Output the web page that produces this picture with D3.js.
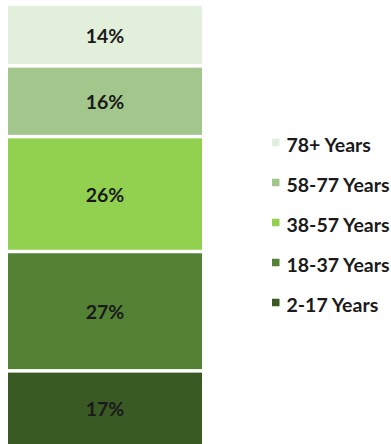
<!DOCTYPE html>
<html>
<head>
<meta charset="utf-8">
<script src="https://cdn.jsdelivr.net/npm/d3@7/dist/d3.min.js"></script>
<style>
  html, body { margin: 0; padding: 0; background: #fff; }
  svg { display: block; }
  text { font-family: Lato, "Open Sans", sans-serif; font-weight: bold; fill: #1a1a1a; }
</style>
</head>
<body>
<svg id="chart" width="391" height="444"></svg>
<script>
// Age groups, bottom to top of the stack
const ageGroups = ["2-17 Years", "18-37 Years", "38-57 Years", "58-77 Years", "78+ Years"];
const shares = [17, 27, 26, 16, 14];
const groupColors = ["#3a5a24", "#548235", "#92d050", "#a3c68d", "#e2efda"];

const svg = d3.select("#chart");

// Cumulative stack bounds
const stacked = [];
let acc = 0;
ageGroups.forEach((g, i) => {
  stacked.push({ group: g, value: shares[i], y0: acc, y1: acc + shares[i], color: groupColors[i] });
  acc += shares[i];
});

const y = d3.scaleLinear().domain([0, 100]).range([446, 4]);
const x = d3.scaleBand().domain(["all"]).range([8, 202]).padding(0);

const gap = 3.5;

const seg = svg.append("g").selectAll("g").data(stacked).join("g");

seg.append("rect")
  .attr("x", x("all"))
  .attr("width", x.bandwidth())
  .attr("y", d => y(d.y1) + gap / 2)
  .attr("height", d => y(d.y0) - y(d.y1) - gap)
  .attr("fill", d => d.color);

seg.append("text")
  .attr("x", x("all") + x.bandwidth() / 2)
  .attr("y", d => (y(d.y0) + y(d.y1)) / 2 + 0.5)
  .attr("text-anchor", "middle")
  .attr("dominant-baseline", "central")
  .style("font-size", "19.5px")
  .text(d => d.value + "%");

// Legend, top entry is the oldest group
const legendItems = stacked.slice().reverse();
const ly = d3.scalePoint().domain(legendItems.map(d => d.group)).range([142.5, 302.5]);

const leg = svg.append("g").selectAll("g").data(legendItems).join("g")
  .attr("transform", d => `translate(272,${ly(d.group)})`);

leg.append("rect")
  .attr("x", 0).attr("y", -3.75)
  .attr("width", 7.5).attr("height", 7.5)
  .attr("fill", d => d.color);

leg.append("text")
  .attr("x", 14.5)
  .attr("y", 1.7)
  .attr("dominant-baseline", "central")
  .style("font-size", "19.5px")
  .text(d => d.group);
</script>
</body>
</html>
